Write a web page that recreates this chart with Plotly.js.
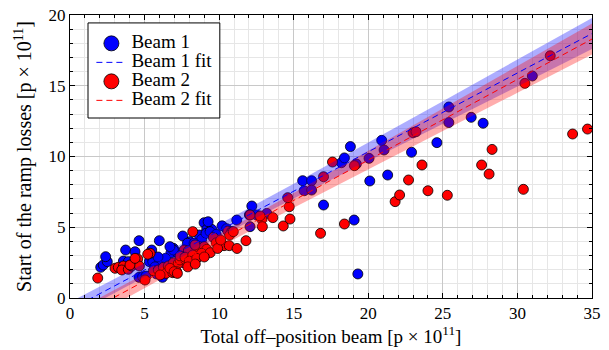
<!DOCTYPE html>
<html>
<head>
<meta charset="utf-8">
<script src="https://cdn.plot.ly/plotly-3.0.1.min.js"></script>
<style>html,body{margin:0;padding:0;background:#fff;}</style>
</head>
<body>
<div id="chart" style="width:609px;height:350px;"></div>
<script>
// Beam 1 measurements
const beam1X = [2.06,2.23,2.5,2.39,3.58,3.91,3.73,4.36,4.63,5.99,5.32,5.48,5.32,5.55,4.63,4.87,5.1,6.2,6.15,5.8,
  6.93,6.77,7.56,8.05,8.99,9.17,9.5,8.67,8.83,7.94,7.2,6.93,6.7,7.38,7.87,8.32,9.12,9.39,
  6.5,6.0,5.7,7.0,7.6,8.2,8.6,9.0,6.4,5.9,10.2,9.8,10.5,9.26,
  11.18,12.19,12.07,12.5,13.2,15.6,16.2,15.7,16.2,17.0,18.2,18.4,18.8,19.2,20.05,20.1,21.3,20.9,21.06,
  22.9,24.6,25.4,25.4,26.9,27.7,19.05,19.3,31.0];
const beam1Y = [2.17,2.33,2.57,2.92,2.61,2.57,3.39,3.27,4.05,4.05,3.11,3.39,2.57,2.57,1.46,1.5,1.55,1.46,1.86,1.7,
  3.51,3.2,4.38,3.98,5.32,4.85,4.85,4.45,4.15,3.67,3.2,3.39,3.63,2.74,3.87,3.87,4.57,4.69,
  2.3,2.5,2.2,2.3,2.5,2.8,3.0,3.3,2.8,2.9,5.1,4.5,4.9,5.39,
  5.51,6.5,5.04,5.87,5.98,8.29,8.29,7.58,7.63,6.57,9.56,9.9,10.7,9.47,9.87,8.27,8.69,11.14,10.46,
  10.3,10.98,13.5,12.4,12.77,12.35,5.51,1.7,15.69];
// Beam 2 measurements
const beam2X = [1.86,3.02,3.24,3.58,3.47,3.91,4.14,4.43,4.54,4.65,4.02,4.36,
  5.03,5.37,5.21,5.59,5.92,6.26,6.59,6.44,6.04,
  7.04,6.93,7.26,7.38,7.71,7.15,6.89,6.7,6.98,7.2,
  8.23,7.65,7.94,7.38,7.71,8.67,8.99,9.17,8.5,8.83,8.23,8.38,9.61,
  10.58,10.85,10.7,10.33,10.68,11.8,12.03,12.86,
  9.8,9.4,9.9,10.1,8.0,8.5,9.0,7.9,8.4,10.95,11.2,
  12.07,12.74,12.9,13.6,14.3,14.75,14.7,14.6,16.8,17.0,17.6,18.4,19.07,
  21.8,22.1,22.7,23.6,24.0,25.3,23.0,23.2,
  28.3,27.6,28.1,30.4,30.5,32.2,33.7,34.7];
const beam2Y = [1.41,2.1,2.17,2.26,1.98,2.03,2.26,2.49,2.76,2.26,2.33,2.8,
  1.27,3.16,3.09,1.93,1.98,2.17,2.26,1.74,1.63,
  2.1,2.49,2.45,2.69,2.74,1.86,1.79,2.1,1.86,1.74,
  4.69,3.39,3.34,2.97,2.88,3.63,3.63,3.44,3.27,3.16,3.04,3.75,4.29,
  4.73,4.69,4.45,3.7,3.7,4.05,5.87,5.56,
  3.9,3.2,3.5,4.1,2.6,2.8,2.9,2.2,2.4,4.69,3.5,
  5.87,5.8,5.04,5.68,5.09,5.58,6.45,7.09,4.57,8.57,9.61,5.23,9.35,
  6.81,7.28,8.34,9.4,7.58,7.26,11.68,11.75,
  10.5,9.4,8.76,7.68,15.17,17.12,11.59,11.94];
// Fit lines and their uncertainty bands, read at these x positions
const fitX = [0,5,10,15,20,25,30,35];
const beam1Fit = [-0.81,1.98,4.76,7.55,10.33,13.12,15.9,18.69];
const beam1Band = [0.52,0.47,0.45,0.52,0.64,0.79,0.95,1.1];
const beam2Fit = [-1.65,1.2,4.05,6.9,9.75,12.6,15.45,18.3];
const beam2Band = [0.55,0.48,0.46,0.52,0.64,0.79,0.95,1.1];
// Legend labels
const legendNames = ['Beam 1', 'Beam 1 fit', 'Beam 2', 'Beam 2 fit'];

const up = (f,b) => f.map((v,i)=>v+b[i]);
const lo = (f,b) => f.map((v,i)=>v-b[i]);

const FONT = 'Liberation Serif';
const BLUE = '#0000ff', RED = '#ff0000';
const mk = (c, s) => ({size:s, color:c, line:{color:'black', width:0.8}});
const lg = (t) => '<span style="font-size:19px">' + t + '</span>';
const dash = (c) => ({color:c, width:1, dash:'6px,4px'});

const traces = [
  {x:beam1X, y:beam1Y, type:'scatter', mode:'markers', marker:mk(BLUE,10), showlegend:false},
  {x:beam2X, y:beam2Y, type:'scatter', mode:'markers', marker:mk(RED,10), showlegend:false},
  {x:fitX, y:lo(beam1Fit,beam1Band), type:'scatter', mode:'lines', line:{width:0, color:'rgba(0,0,255,0)'}, showlegend:false},
  {x:fitX, y:up(beam1Fit,beam1Band), type:'scatter', mode:'lines', fill:'tonexty', fillcolor:'rgba(0,0,255,0.32)', line:{width:0, color:'rgba(0,0,255,0)'}, showlegend:false},
  {x:fitX, y:lo(beam2Fit,beam2Band), type:'scatter', mode:'lines', line:{width:0, color:'rgba(255,0,0,0)'}, showlegend:false},
  {x:fitX, y:up(beam2Fit,beam2Band), type:'scatter', mode:'lines', fill:'tonexty', fillcolor:'rgba(255,0,0,0.32)', line:{width:0, color:'rgba(255,0,0,0)'}, showlegend:false},
  {x:fitX, y:beam1Fit, type:'scatter', mode:'lines', line:dash(BLUE), showlegend:false},
  {x:fitX, y:beam2Fit, type:'scatter', mode:'lines', line:dash(RED), showlegend:false},
  // legend entries (no data of their own)
  {x:[null], y:[null], type:'scatter', mode:'markers', name:lg(legendNames[0]), marker:mk(BLUE,15), legendrank:1},
  {x:[null], y:[null], type:'scatter', mode:'lines', name:lg(legendNames[1]), line:dash(BLUE), legendrank:2},
  {x:[null], y:[null], type:'scatter', mode:'markers', name:lg(legendNames[2]), marker:mk(RED,15), legendrank:3},
  {x:[null], y:[null], type:'scatter', mode:'lines', name:lg(legendNames[3]), line:dash(RED), legendrank:4}
];

const axisCommon = {
  showline:true, linecolor:'black', linewidth:1, mirror:'allticks',
  ticks:'inside', ticklen:5, tickcolor:'black', tickwidth:1,
  showgrid:true, gridcolor:'#c8c8c8', gridwidth:1, zeroline:false,
  tickfont:{family:FONT, size:17, color:'black'},
  minor:{dtick:1, ticks:'inside', ticklen:3, tickcolor:'black', showgrid:true, gridcolor:'#e6e6e6', gridwidth:1}
};

const layout = {
  width:609, height:350,
  margin:{l:70, r:17, t:15, b:52},
  paper_bgcolor:'white', plot_bgcolor:'white',
  font:{family:FONT, size:17, color:'black'},
  showlegend:true,
  legend:{x:0.041, y:0.951, xanchor:'left', yanchor:'top', bgcolor:'rgba(0,0,0,0)', borderwidth:0,
    font:{family:FONT, size:12, color:'black'}, itemsizing:'trace', tracegroupgap:0, traceorder:'normal', itemwidth:30},
  shapes:[{type:'rect', xref:'paper', yref:'paper', x0:0.0345, x1:0.287, y0:0.636, y1:0.972,
    fillcolor:'white', line:{color:'black', width:1}, layer:'above'}],
  xaxis:Object.assign({}, axisCommon, {range:[0,35], dtick:5, tick0:0,
    title:{text:'Total off–position beam [p × 10<sup>11</sup>]', font:{family:FONT, size:19, color:'black'}, standoff:4}}),
  yaxis:Object.assign({}, axisCommon, {range:[0,20], dtick:5, tick0:0,
    title:{text:'Start of the ramp losses [p × 10<sup>11</sup>]', font:{family:FONT, size:20, color:'black'}, standoff:11}})
};

Plotly.newPlot('chart', traces, layout, {staticPlot:true, displayModeBar:false});
</script>
</body>
</html>
